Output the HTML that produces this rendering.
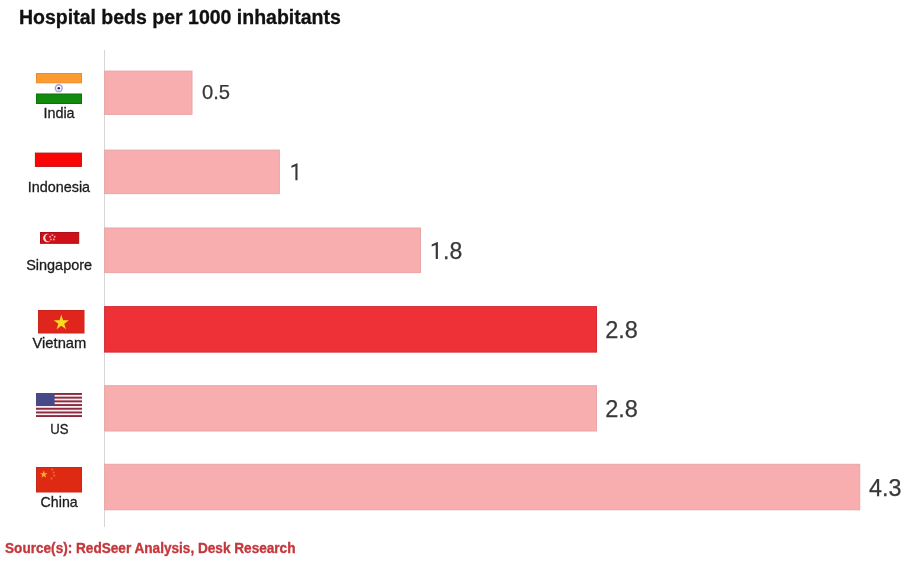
<!DOCTYPE html>
<html>
<head>
<meta charset="utf-8">
<style>
html,body{margin:0;padding:0;background:#fff;width:919px;height:573px;overflow:hidden;}
svg{display:block;will-change:transform;}
text{font-family:"Liberation Sans",sans-serif;}
</style>
</head>
<body>
<svg width="919" height="573" viewBox="0 0 919 573">
<rect x="0" y="0" width="919" height="573" fill="#ffffff"/>
<!-- title -->
<text x="19" y="24" font-size="19.5" font-weight="bold" fill="#111111" stroke="#111111" stroke-width="0.3">Hospital beds per 1000 inhabitants</text>

<!-- axis -->
<rect x="104" y="50" width="1" height="477" fill="#d6d6d6"/>

<!-- bars -->
<rect x="104.60" y="71.10" width="87.40" height="43.30" fill="#f8adae" stroke="#e8a6a8" stroke-width="1"/>
<rect x="104.60" y="150.10" width="174.80" height="43.50" fill="#f8adae" stroke="#e8a6a8" stroke-width="1"/>
<rect x="104.60" y="228.00" width="315.90" height="44.60" fill="#f8adae" stroke="#e8a6a8" stroke-width="1"/>
<rect x="104.60" y="306.60" width="491.90" height="45.50" fill="#ee3137" stroke="#d22b34" stroke-width="1"/>
<rect x="104.60" y="385.70" width="491.90" height="45.30" fill="#f8adae" stroke="#e8a6a8" stroke-width="1"/>
<rect x="104.60" y="464.30" width="755.10" height="45.50" fill="#f8adae" stroke="#e8a6a8" stroke-width="1"/>

<!-- values -->
<g fill="#383838" stroke="#383838" stroke-width="0.25">
<text x="202" y="98.6" font-size="20.2">0.5</text>
<path d="M297.50 163.30 L297.50 180.20 L295.40 180.20 L295.40 166.20 L291.40 167.70 L291.40 165.80 L297.00 163.30 Z" stroke="none"/>
<path d="M437.90 242.00 L437.90 259.00 L435.70 259.00 L435.70 244.90 L431.70 246.40 L431.70 244.50 L437.40 242.00 Z" stroke="none"/>
<text x="443" y="259" font-size="23">.8</text>
<text x="605.2" y="337.8" font-size="23.5">2.8</text>
<text x="605.2" y="416.6" font-size="23.5">2.8</text>
<text x="869" y="495.6" font-size="23.3">4.3</text>
</g>

<!-- country labels -->
<g fill="#1c1c1c" stroke="#1c1c1c" stroke-width="0.3" font-size="14.6" text-anchor="middle">
<text x="59" y="117.9" textLength="31.2" lengthAdjust="spacingAndGlyphs">India</text>
<text x="58.9" y="191.6" textLength="62.4" lengthAdjust="spacingAndGlyphs">Indonesia</text>
<text x="59.15" y="269.5" textLength="65.9" lengthAdjust="spacingAndGlyphs">Singapore</text>
<text x="59.4" y="347.5" textLength="53.8" lengthAdjust="spacingAndGlyphs">Vietnam</text>
<text x="59.35" y="433.5" textLength="18.3" lengthAdjust="spacingAndGlyphs">US</text>
<text x="59.15" y="507.1" textLength="37.1" lengthAdjust="spacingAndGlyphs">China</text>
</g>

<!-- India flag -->
<rect x="36.5" y="73.5" width="45" height="9.3" fill="#fd9a30" stroke="#eb8c2a" stroke-width="1"/>
<rect x="36.5" y="94" width="45" height="9.5" fill="#128a0e" stroke="#0d7109" stroke-width="1"/>
<circle cx="58.8" cy="88.2" r="3.4" fill="none" stroke="#a4a4d2" stroke-width="1.5"/>
<circle cx="58.8" cy="88.2" r="1.3" fill="#22227a"/>

<!-- Indonesia flag -->
<rect x="35.4" y="153.1" width="46" height="13.3" fill="#fa0505" stroke="#bb1212" stroke-width="1"/>

<!-- Singapore flag -->
<rect x="40.5" y="232.5" width="38.2" height="10.8" fill="#cf1019" stroke="#ad0f17" stroke-width="1"/>
<circle cx="47.4" cy="238" r="4.3" fill="#f8dede"/>
<circle cx="49.0" cy="237.7" r="3.7" fill="#cf1019"/>
<g fill="#f0a8aa">
<circle cx="52.40" cy="235.10" r="0.95"/>
<circle cx="54.68" cy="236.76" r="0.95"/>
<circle cx="53.81" cy="239.44" r="0.95"/>
<circle cx="50.99" cy="239.44" r="0.95"/>
<circle cx="50.12" cy="236.76" r="0.95"/>
</g>

<!-- Vietnam flag -->
<rect x="38.5" y="310.5" width="45.5" height="22.5" fill="#e0261c" stroke="#c8241c" stroke-width="1"/>
<path d="M61.30 314.70 L63.10 320.23 L68.91 320.23 L64.21 323.64 L66.00 329.17 L61.30 325.76 L56.60 329.17 L58.39 323.64 L53.69 320.23 L59.50 320.23 Z" fill="#f7dc20"/>

<!-- US flag -->
<g>
<rect x="36" y="393" width="46" height="24" fill="#fbeef2"/>
<rect x="36" y="393" width="46" height="1.9" fill="#8b2a3e"/>
<rect x="36" y="396.7" width="46" height="1.9" fill="#8b2a3e"/>
<rect x="36" y="400.4" width="46" height="1.9" fill="#8b2a3e"/>
<rect x="36" y="404.1" width="46" height="1.9" fill="#8b2a3e"/>
<rect x="36" y="407.8" width="46" height="1.9" fill="#8b2a3e"/>
<rect x="36" y="411.5" width="46" height="1.9" fill="#8b2a3e"/>
<rect x="36" y="415.1" width="46" height="1.9" fill="#8b2a3e"/>
<rect x="36" y="393" width="18.6" height="12.8" fill="#474a86"/>
</g>

<!-- China flag -->
<rect x="36.5" y="467.5" width="45" height="24.5" fill="#de2a12" stroke="#c8281a" stroke-width="1"/>
<path d="M43.80 470.40 L44.70 473.16 L47.60 473.16 L45.25 474.87 L46.15 477.64 L43.80 475.93 L41.45 477.64 L42.35 474.87 L40.00 473.16 L42.90 473.16 Z" fill="#f8b526"/>
<g fill="#f2642a">
<circle cx="52" cy="469.6" r="1"/>
<circle cx="53.6" cy="472.4" r="1"/>
<circle cx="54.4" cy="475.6" r="1.1"/>
<circle cx="51.6" cy="478.5" r="1.1"/>
</g>

<!-- footer -->
<text x="5" y="553" font-size="14.2" font-weight="bold" fill="#c4383d" stroke="#c4383d" stroke-width="0.35" textLength="290.5" lengthAdjust="spacingAndGlyphs">Source(s): RedSeer Analysis, Desk Research</text>
</svg>
</body>
</html>
